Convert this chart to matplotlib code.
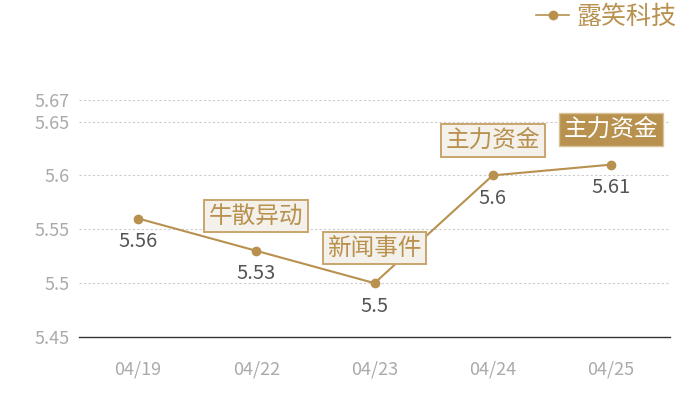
import matplotlib.pyplot as plt
from matplotlib.lines import Line2D

plt.rcParams['font.family'] = ['Noto Sans CJK SC', 'DejaVu Sans']

dates = ['04/19', '04/22', '04/23', '04/24', '04/25']
prices = [5.56, 5.53, 5.5, 5.6, 5.61]
price_labels = ['5.56', '5.53', '5.5', '5.6', '5.61']
yticks = [5.45, 5.5, 5.55, 5.6, 5.65, 5.67]
ytick_labels = ['5.45', '5.5', '5.55', '5.6', '5.65', '5.67']

# event tags: (index, text, highlighted)
events = [(1, '牛散异动', False), (2, '新闻事件', False),
          (3, '主力资金', False), (4, '主力资金', True)]

gold = '#b8914f'

fig = plt.figure(figsize=(7, 4), dpi=100)
ax = fig.add_axes([0.113, 0.1575, 0.844, 0.5925])

x = range(len(dates))
ax.plot(x, prices, color=gold, linewidth=1.5, marker='o', markersize=6,
        zorder=3)

for i, (p, lab) in enumerate(zip(prices, price_labels)):
    ax.annotate(lab, (i, p), xytext=(0, -23), textcoords='offset pixels',
                ha='center', va='center', fontsize=14.5, color='#555555')

for i, txt, hi in events:
    if hi:
        box = dict(boxstyle='square,pad=0.2', facecolor=gold,
                   edgecolor='#d9c29a', linewidth=1)
        col = 'white'
    else:
        box = dict(boxstyle='square,pad=0.2', facecolor='#f4f0ea',
                   edgecolor='#c9a56d', linewidth=1.4)
        col = gold
    ax.annotate(txt, (i, prices[i]), xytext=(0, 35),
                textcoords='offset pixels', ha='center', va='center',
                fontsize=17, color=col, bbox=box, zorder=5)

ax.set_xlim(-0.5, len(dates) - 0.5)
ax.set_ylim(5.45, 5.67)
ax.set_xticks(list(x))
ax.set_xticklabels(dates)
ax.set_yticks(yticks)
ax.set_yticklabels(ytick_labels)
ax.tick_params(axis='both', length=0, labelsize=13, labelcolor='#aaaaaa')
ax.tick_params(axis='x', pad=17)
ax.tick_params(axis='y', pad=7)

for y in yticks[1:]:
    ax.axhline(y, color='#cccccc', linewidth=0.8, linestyle=(0, (2, 2)),
               zorder=1)

for s in ['top', 'right', 'left']:
    ax.spines[s].set_visible(False)
ax.spines['bottom'].set_color('#333333')
ax.spines['bottom'].set_linewidth(1)

handle = Line2D([], [], color=gold, marker='o', markersize=6, linewidth=1.2)
leg = fig.legend([handle], ['露笑科技'], loc='upper right',
                 bbox_to_anchor=(0.992, 1.035), frameon=False, fontsize=18,
                 handlelength=1.35, handletextpad=0.3, borderaxespad=0.3)
for t in leg.get_texts():
    t.set_color(gold)

fig.savefig('out.png', dpi=100)
